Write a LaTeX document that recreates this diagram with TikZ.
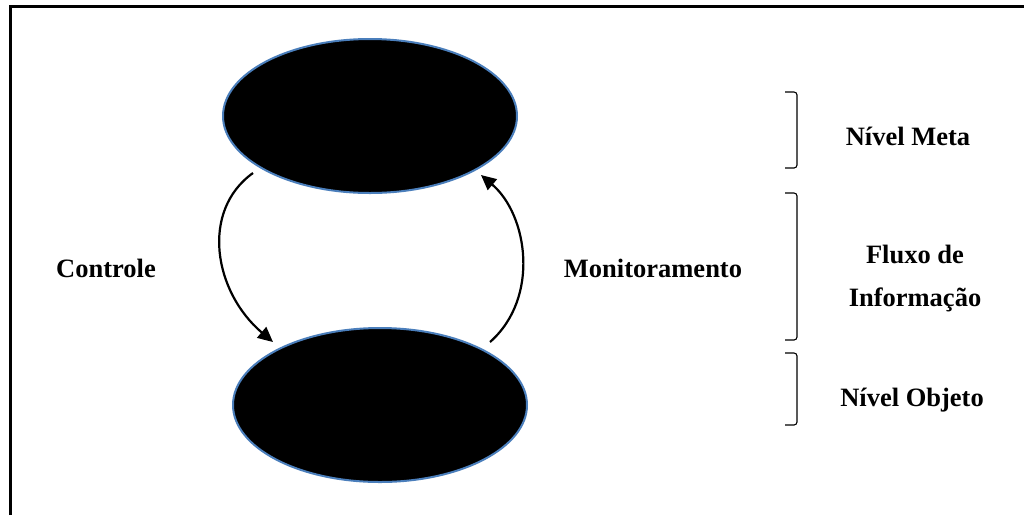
\documentclass[tikz,border=0pt]{standalone}
\usepackage{fontspec}
\setmainfont{Liberation Serif}
\usetikzlibrary{shapes.geometric,arrows.meta,calc}
\definecolor{ellblue}{HTML}{4A7EBB}
\tikzset{
  level/.style={ellipse, draw=ellblue, line width=2pt, fill=black, minimum width=294pt, minimum height=154pt, inner sep=0pt},
  lbl/.style={font=\bfseries\fontsize{26.5}{43}\selectfont, anchor=base, inner sep=0pt},
  flow/.style={line width=2.2pt, -{Triangle[length=15pt,width=14pt]}},
  brack/.style={line width=1.1pt, rounded corners=3pt},
  frame/.style={line width=3pt}
}
\begin{document}
\begin{tikzpicture}[x=1pt,y=-1pt]
\useasboundingbox (0,0) rectangle (1024,515);
% frame
\coordinate (fa) at (10,515);
\coordinate (fb) at (10,6.2);
\coordinate (fc) at (1024,6.2);
\draw[frame] (fa) -- (fb) -- (fc);
% ellipses
\node[level] (meta) at (370,116) {};
\node[level] (obj) at (380,405) {};
% arrows
\coordinate (cs) at ($(meta)+(-117,57)$);
\coordinate (ce) at ($(obj)+(-107,-63)$);
\draw[flow] (cs) .. controls (200,211) and (214,292) .. (ce);
\coordinate (ms) at ($(obj)+(110,-63)$);
\coordinate (me) at ($(meta)+(111,59)$);
\draw[flow] (ms) .. controls (540,298) and (528,215) .. (me);
% labels
\node[lbl] (controle) at (106,277) {Controle};
\node[lbl] (monit) at (653,277) {Monitoramento};
% brackets
\coordinate (b1a) at (785,92);
\coordinate (b1b) at (785,168);
\draw[brack] (b1a) -| (797,168) -- (b1b);
\coordinate (b2a) at (785,193);
\coordinate (b2b) at (785,340);
\draw[brack] (b2a) -| (797,340) -- (b2b);
\coordinate (b3a) at (785,353);
\coordinate (b3b) at (785,425);
\draw[brack] (b3a) -| (797,425) -- (b3b);
% right labels
\node[lbl] (nmeta) at (908,145) {Nível Meta};
\node[lbl, align=center] (fluxo) at (915,306) {Fluxo de\\Informação};
\node[lbl] (nobj) at (912,406) {Nível Objeto};
\end{tikzpicture}
\end{document}
